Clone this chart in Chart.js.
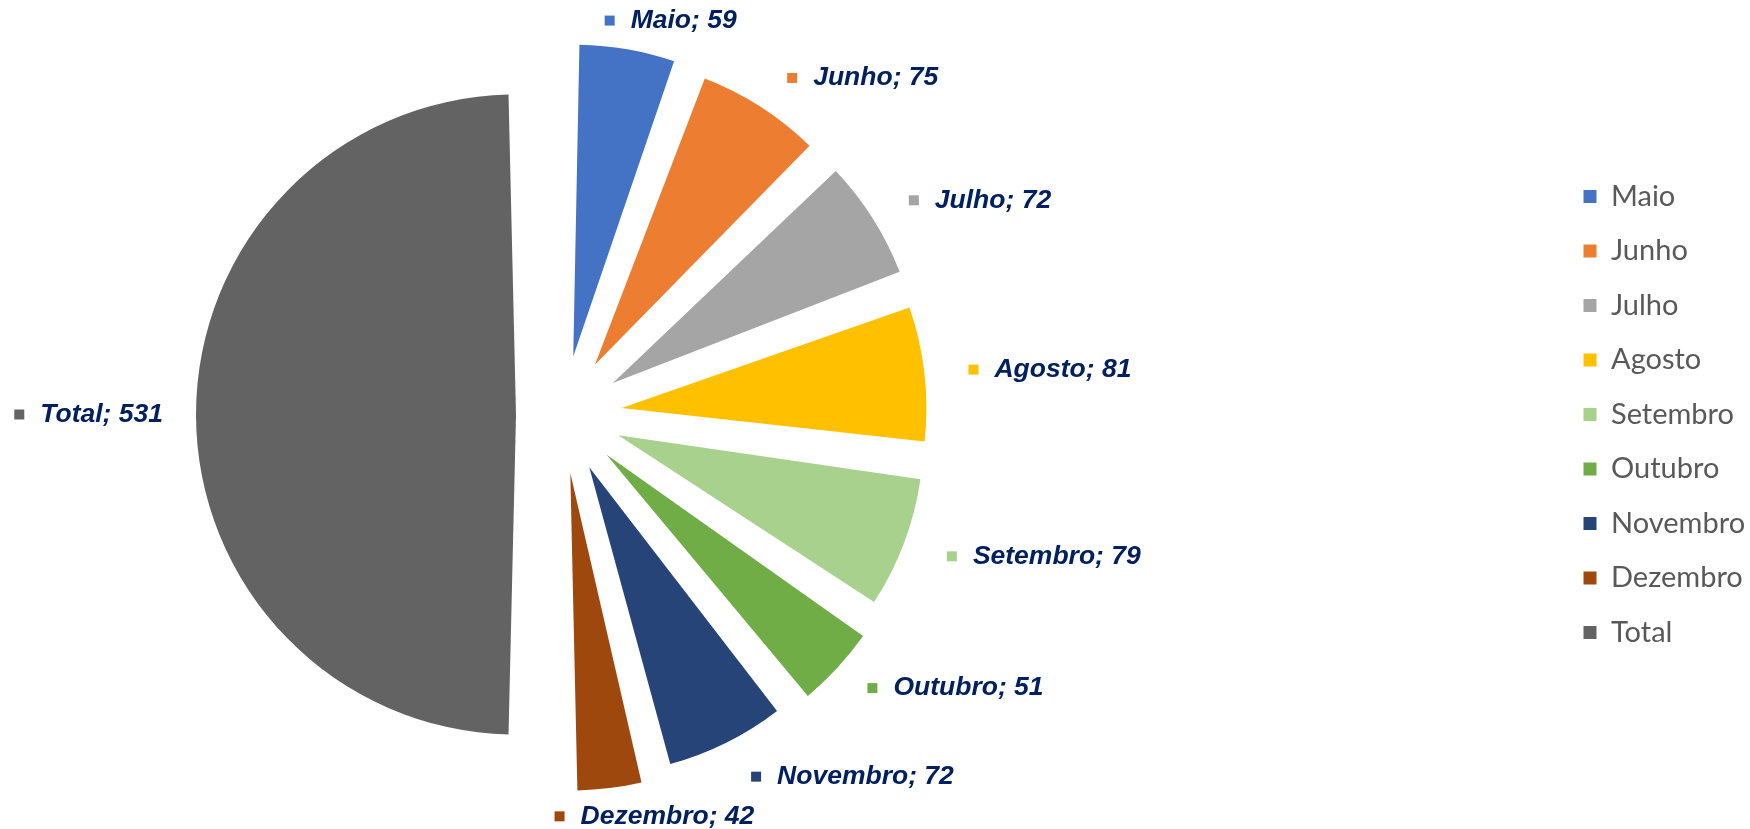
<!DOCTYPE html>
<html>
<head>
<meta charset="utf-8">
<script src="https://cdn.jsdelivr.net/npm/chart.js@4.4.1/dist/chart.umd.min.js"></script>
<style>
    html, body { margin: 0; padding: 0; background: #ffffff; }
    #wrap { width: 1750px; height: 829px; }
</style>
</head>
<body>
<div id="wrap"><canvas id="pieChart"></canvas></div>
<script>
// ========= data =========
const months = ["Maio", "Junho", "Julho", "Agosto", "Setembro", "Outubro", "Novembro", "Dezembro", "Total"];
const counts = [59, 75, 72, 81, 79, 51, 72, 42, 531];

const sliceColors = ["#4472C4", "#ED7D31", "#A5A5A5", "#FFC000", "#A9D18E",
                     "#70AD47", "#264478", "#9E480E", "#636363"];

// empty box between pie area and legend, so the pie sits left of centre
const LEGEND_GAP = 432;

const legendGap = {
    id: "legendGap",
    beforeInit(chart) {
        const box = {
            position: "right",
            weight: 0,
            fullSize: false,
            options: {},
            left: 0, top: 0, right: 0, bottom: 0, width: 0, height: 0,
            isHorizontal() { return false; },
            update(maxWidth, maxHeight) {
                this.width = LEGEND_GAP;
                this.height = maxHeight;
            },
            draw() {}
        };
        Chart.layouts.addBox(chart, box);
    }
};

// "Name; value" labels outside every slice, with a small colour square
const sliceLabels = {
    id: "sliceLabels",
    afterDatasetsDraw(chart, args, opts) {
        const ctx = chart.ctx;
        const meta = chart.getDatasetMeta(0);
        const ds = chart.data.datasets[0];

        ctx.save();
        ctx.font = opts.font;
        ctx.textBaseline = "middle";
        ctx.textAlign = "left";

        meta.data.forEach((arc, i) => {
            const a = (arc.startAngle + arc.endAngle) / 2;
            const ux = Math.cos(a);
            const uy = Math.sin(a);
            const dist = opts.distance + opts.extraBelow * Math.max(0, uy);
            const px = arc.x + ux * dist;
            const py = arc.y + uy * dist;

            const text = chart.data.labels[i] + "; " + ds.data[i];
            const boxW = opts.marker + opts.gap + ctx.measureText(text).width;

            let left;
            if (ux > 0.3) {
                left = px + opts.pad;
            } else if (ux < -0.3) {
                left = px - boxW;
            } else {
                // near top / bottom: slide from centred to side-aligned
                left = px - boxW * 0.5 * (1 - ux / 0.3);
            }

            ctx.fillStyle = ds.backgroundColor[i];
            ctx.fillRect(left, py - opts.marker / 2, opts.marker, opts.marker);
            ctx.fillStyle = opts.color;
            ctx.fillText(text, left + opts.marker + opts.gap, py);
        });
        ctx.restore();
    }
};

document.addEventListener("DOMContentLoaded", () => {
    const pieCtx = document.getElementById("pieChart");

    new Chart(pieCtx, {
        type: "pie",
        data: {
            labels: months,
            datasets: [{
                data: counts,
                backgroundColor: sliceColors,
                borderWidth: 0,
                // exploded slices (chart.js moves a slice by offset / 4)
                offset: (c) => (months[c.dataIndex] === "Total" ? 188 : 236)
            }]
        },
        options: {
            responsive: true,
            maintainAspectRatio: false,
            animation: false,
            events: [],
            radius: 273,
            layout: { padding: 0 },
            plugins: {
                tooltip: { enabled: false },
                legend: {
                    position: "right",
                    align: "center",
                    maxWidth: 192,
                    labels: {
                        boxWidth: 13,
                        boxHeight: 13,
                        padding: 25.5,
                        color: "#595959",
                        font: { family: "Lato", size: 29 }
                    }
                },
                sliceLabels: {
                    font: "italic bold 26.5px 'Liberation Sans', Arial, sans-serif",
                    color: "#002060",
                    distance: 400,
                    extraBelow: 5,
                    marker: 10,
                    gap: 16,
                    pad: 8
                }
            }
        },
        plugins: [legendGap, sliceLabels]
    });
});
</script>
</body>
</html>
